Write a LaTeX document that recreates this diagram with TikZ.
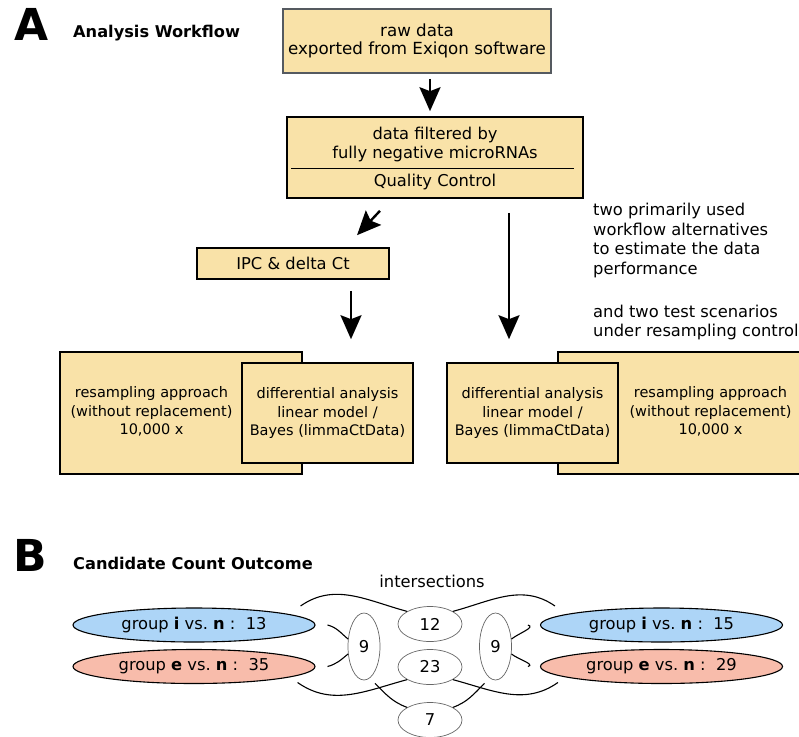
\documentclass[tikz,border=0pt]{standalone}
\usepackage{fontspec}
\setmainfont{DejaVu Sans}
\usetikzlibrary{arrows.meta,shapes.geometric}

\definecolor{boxfill}{HTML}{F9E2A8}
\definecolor{grpblue}{HTML}{ADD5F7}
\definecolor{grpred}{HTML}{F8BCAB}
\definecolor{rawline}{HTML}{555A60}

\begin{document}
\begin{tikzpicture}[
    x=1pt, y=1pt,
    font=\fontsize{16.3}{18.6}\selectfont,
    box/.style={draw, line width=1.6pt, fill=boxfill, inner sep=0pt, align=center},
    txt/.style={align=center, inner sep=0pt},
    small/.style={font=\fontsize{14.5}{18.5}\selectfont},
    flow/.style={line width=2.4pt, -{Stealth[length=24pt, width=21pt, inset=4pt]}},
    grp/.style={draw, line width=1.1pt, ellipse, inner sep=0pt, minimum width=242pt, minimum height=34pt},
    isect/.style={draw, gray!80!black, line width=0.7pt, ellipse, inner sep=0pt, text=black},
    link/.style={line width=1.1pt},
    title/.style={font=\fontsize{16.2}{18}\selectfont\bfseries, anchor=west, inner sep=0pt},
    panel/.style={font=\fontsize{44}{44}\selectfont\bfseries, inner sep=0pt}
]
\useasboundingbox (0,0) rectangle (799,-736);

% Panel A
\node[panel] (labA) at (31.5,-24) {A};
\node[title] (titA) at (73,-33) {Analysis Workflow};

\node[box, draw=rawline, minimum width=268pt, minimum height=64pt, font=\fontsize{16.7}{18.6}\selectfont] (raw) at (417,-41)
    {raw data\\exported from Exiqon software};
\node[box, minimum width=296pt, minimum height=81pt] (qc) at (435,-157.5) {};
\node[txt] (qctop) at (435,-144.5) {data filtered by\\fully negative microRNAs};
\node[txt] (qcbot) at (435,-181.5) {Quality Control};
\draw[line width=0.9pt] ([xshift=5pt]qc.west |- 0,-168) -- ([xshift=-10pt]qc.east |- 0,-168);

\node[box, minimum width=192pt, minimum height=31pt] (ipc) at (293,-263.5) {IPC \& delta Ct};

% left alternative
\node[box, minimum width=242pt, minimum height=122pt] (resL) at (181,-413) {};
\node[txt, small] (resLtxt) at (151.5,-411.5) {resampling approach\\(without replacement)\\10,000 x};
\node[box, small, minimum width=171pt, minimum height=100pt] (diffL) at (327.5,-413)
    {differential analysis\\linear model /\\Bayes (limmaCtData)};

% right alternative
\node[box, minimum width=242pt, minimum height=122pt] (resR) at (679,-413) {};
\node[txt, small] (resRtxt) at (710.5,-411.5) {resampling approach\\(without replacement)\\10,000 x};
\node[box, small, minimum width=171pt, minimum height=100pt] (diffR) at (532.5,-413)
    {differential analysis\\linear model /\\Bayes (limmaCtData)};

\node[align=left, anchor=north west, inner sep=0pt, font=\fontsize{16.3}{19.5}\selectfont] (note) at (593,-203)
    {two primarily used\\workflow alternatives\\to estimate the data\\performance\\[23.5pt]and two test scenarios\\under resampling control};

% Arrows
\draw[flow] ([xshift=13pt, yshift=-5pt]raw.south) -- ([xshift=-5pt, yshift=5pt]qc.north);
\draw[flow] ([xshift=-55pt, yshift=-12pt]qc.south) -- ([xshift=64pt, yshift=12pt]ipc.north);
\draw[flow] ([xshift=58pt, yshift=-11pt]ipc.south) -- ([xshift=23.5pt, yshift=23pt]diffL.north);
\draw[flow] ([xshift=74pt, yshift=-14pt]qc.south) -- ([xshift=-23.5pt, yshift=23pt]diffR.north);

% Panel B
\node[panel] (labB) at (30,-555) {B};
\node[title] (titB) at (73,-563) {Candidate Count Outcome};
\node[txt] (isects) at (432,-581) {intersections};

\node[grp, fill=grpblue] (giL) at (194,-625) {group \textbf{i} vs.\ \textbf{n} :\ \ 13};
\node[grp, fill=grpred] (geL) at (194,-666.5) {group \textbf{e} vs.\ \textbf{n} :\ \ 35};
\node[grp, fill=grpblue] (giR) at (661.5,-625) {group \textbf{i} vs.\ \textbf{n} :\ \ 15};
\node[grp, fill=grpred] (geR) at (661.5,-666.5) {group \textbf{e} vs.\ \textbf{n} :\ \ 29};

\node[isect, minimum width=64pt, minimum height=35pt] (n12) at (430,-624) {12};
\node[isect, minimum width=64pt, minimum height=35pt] (n23) at (430,-667) {23};
\node[isect, minimum width=64pt, minimum height=35pt] (n7) at (430,-720) {7};
\node[isect, minimum width=32pt, minimum height=67pt] (n9L) at (364,-646.5) {9};
\node[isect, minimum width=32pt, minimum height=67pt] (n9R) at (495.5,-646.5) {9};

% Links
\draw[link] ([shift={(-15pt,19pt)}]giL.east) to[out=35, in=165] (n12.north west);
\draw[link] (n12.north east) to[out=15, in=145] ([shift={(15pt,19pt)}]giR.west);
\draw[link] ([xshift=12pt]giL.east) to[out=-15, in=140] (n9L.155);
\draw[link] ([xshift=12pt]geL.east) to[out=15, in=220] (n9L.205);
\draw[link] (n9R.25) to[out=40, in=-15] ([xshift=-12pt]giR.west);
\draw[link] (n9R.-25) to[out=-40, in=15] ([xshift=-12pt]geR.west);
\draw[link] ([shift={(-18pt,-16pt)}]geL.east) to[out=-35, in=195] (n23.south west);
\draw[link] (n23.south east) to[out=-15, in=215] ([shift={(18pt,-16pt)}]geR.west);
\draw[link] ([shift={(11pt,-3pt)}]n9L.south) to[out=-45, in=160] (n7.north west);
\draw[link] (n7.north east) to[out=20, in=-135] ([shift={(-11pt,-3pt)}]n9R.south);

\end{tikzpicture}
\end{document}
